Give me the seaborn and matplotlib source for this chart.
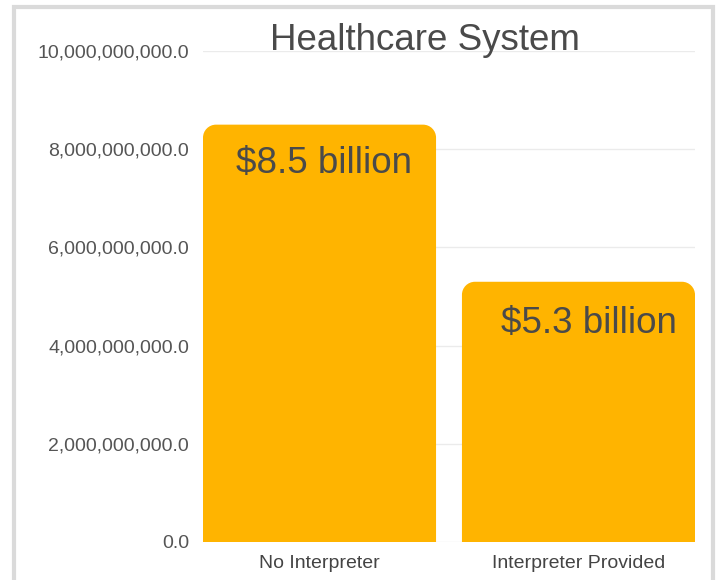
import matplotlib
matplotlib.use("Agg")
import matplotlib.pyplot as plt
import seaborn as sns
import pandas as pd
from matplotlib.path import Path
from matplotlib.patches import PathPatch, Rectangle
from matplotlib.ticker import FuncFormatter

# Data
categories = ["No Interpreter", "Interpreter Provided"]
costs = [8.5e9, 5.3e9]
cost_labels = ["$8.5 billion", "$5.3 billion"]
y_ticks = [0, 2e9, 4e9, 6e9, 8e9, 10e9]

BAR_COLOR = "#FFB400"
TEXT_COLOR = "#4a4a4a"
TICK_COLOR = "#555555"
GRID_COLOR = "#ebebeb"

sns.set_theme(style="white")
plt.rcParams["font.family"] = ["Liberation Sans", "DejaVu Sans"]

df = pd.DataFrame({"category": categories, "cost": costs})

fig = plt.figure(figsize=(7.22, 5.8), dpi=100)
ax = fig.add_axes([203 / 722, 1 - 542 / 580, (695 - 203) / 722, (542 - 51) / 580])

sns.barplot(data=df, x="category", y="cost", color=BAR_COLOR, width=0.9,
            saturation=1, ax=ax, zorder=2)

ax.set_xlim(-0.45, 1.45)
ax.set_ylim(0, 10e9)
ax.set_yticks(y_ticks)
ax.yaxis.set_major_formatter(FuncFormatter(lambda v, _: f"{v:,.1f}"))
ax.set_xlabel("")
ax.set_ylabel("")
for s in ax.spines.values():
    s.set_visible(False)
ax.grid(axis="y", color=GRID_COLOR, linewidth=1, zorder=0)
ax.set_axisbelow(True)
ax.tick_params(axis="y", length=0, pad=10, labelsize=14, labelcolor=TICK_COLOR)
ax.tick_params(axis="x", length=0, pad=9, labelsize=14, labelcolor="#444444")


def top_rounded_path(x0, w, h, rx, ry):
    """Bar outline with rounded top corners (radii in data units)."""
    k = 0.5523
    x1 = x0 + w
    verts = [
        (x0, 0), (x1, 0), (x1, h - ry),
        (x1, h - ry + k * ry), (x1 - rx + k * rx, h), (x1 - rx, h),
        (x0 + rx, h),
        (x0 + rx - k * rx, h), (x0, h - ry + k * ry), (x0, h - ry),
        (x0, 0),
    ]
    codes = [Path.MOVETO, Path.LINETO, Path.LINETO,
             Path.CURVE4, Path.CURVE4, Path.CURVE4,
             Path.LINETO,
             Path.CURVE4, Path.CURVE4, Path.CURVE4,
             Path.CLOSEPOLY]
    return Path(verts, codes)


# replace the square bars with top-rounded ones
fig.canvas.draw()
radius_px = 13
inv = ax.transData.inverted()
p0 = inv.transform((0, 0))
p1 = inv.transform((radius_px, radius_px))
rx, ry = p1[0] - p0[0], p1[1] - p0[1]

label_offsets_px = [(4, -39), (10, -42)]
bars = list(ax.patches)
for bar, label, (dx, dy) in zip(bars, cost_labels, label_offsets_px):
    x0, w, h = bar.get_x(), bar.get_width(), bar.get_height()
    bar.set_visible(False)
    ax.add_patch(PathPatch(top_rounded_path(x0, w, h, rx, ry),
                           facecolor=BAR_COLOR, edgecolor="none", zorder=2))
    ax.annotate(label, xy=(x0 + w / 2, h), xytext=(dx * 0.72, dy * 0.72),
                textcoords="offset points", ha="center", va="center",
                fontsize=26.5, color=TEXT_COLOR, zorder=3)

fig.text(425 / 722, 1 - 40 / 580, "Healthcare System", ha="center",
         va="center", fontsize=26.5, color=TEXT_COLOR)

# light frame around the chart
fig.patches.append(Rectangle((14 / 722, -0.05), (713 - 14) / 722, 1.05 - 7 / 580,
                             transform=fig.transFigure, fill=False,
                             edgecolor="#dadada", linewidth=3))

fig.savefig("out.png", dpi=100)
